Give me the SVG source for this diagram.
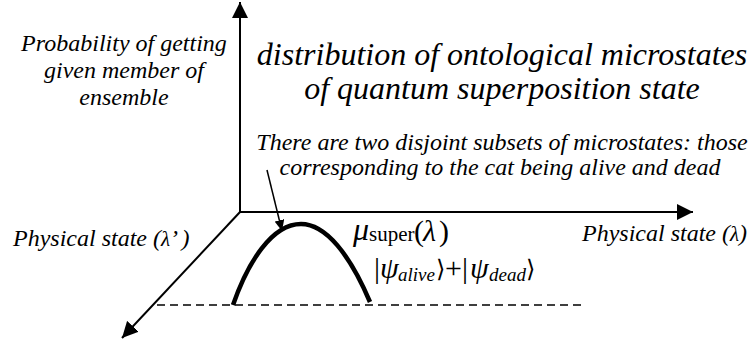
<svg xmlns="http://www.w3.org/2000/svg" width="751" height="343" viewBox="0 0 751 343">
<style>
text{font-family:'Liberation Serif','Times New Roman',serif;fill:#000}
.i{font-style:italic}
.ax{stroke:#000;stroke-width:2;fill:none}
</style>
<defs>
<marker id="ah" markerWidth="18" markerHeight="16" refX="16" refY="8" orient="auto" markerUnits="userSpaceOnUse"><path d="M0,0 L16,8 L0,16 z" fill="#000"/></marker>
<marker id="ahs" markerWidth="12" markerHeight="10" refX="11" refY="5" orient="auto" markerUnits="userSpaceOnUse"><path d="M0,0 L11,5 L0,10 z" fill="#000"/></marker>
</defs>
<rect width="751" height="343" fill="#fff"/>
<g id="connectors">
<line class="ax" x1="240" y1="212" x2="240" y2="2" marker-end="url(#ah)"/>
<line class="ax" x1="239" y1="212" x2="693" y2="212" marker-end="url(#ah)"/>
<line class="ax" x1="240" y1="212" x2="122" y2="338" marker-end="url(#ah)"/>
<line x1="157" y1="305" x2="583" y2="305" stroke="#000" stroke-width="1.5" stroke-dasharray="8,5"/>
<line x1="267" y1="170" x2="282" y2="231" stroke="#000" stroke-width="1.5" marker-end="url(#ahs)"/>
</g>
<g id="curve">
<path d="M233,305 C248,262 272,224 301,224 C326,224 350,255 370,302" fill="none" stroke="#000" stroke-width="4.5"/>
</g>
<g id="y-label">
<text class="i" font-size="24" text-anchor="middle"><tspan x="124" y="51">Probability of getting</tspan><tspan x="124" y="78">given member of</tspan><tspan x="124" y="105">ensemble</tspan></text>
</g>
<g id="title">
<text class="i" font-size="32" text-anchor="middle"><tspan x="502" y="65">distribution of ontological microstates</tspan><tspan x="502" y="99">of quantum superposition state</tspan></text>
</g>
<g id="note">
<text class="i" font-size="24" text-anchor="middle"><tspan x="502" y="150">There are two disjoint subsets of microstates: those</tspan><tspan x="500" y="175">corresponding to the cat being alive and dead</tspan></text>
</g>
<g id="x-label">
<text class="i" font-size="24" x="582" y="241">Physical state (<tspan font-size="21">λ</tspan>)</text>
</g>
<g id="z-label">
<text class="i" font-size="24" x="13" y="246">Physical state (<tspan font-size="21">λ</tspan>’ )</text>
</g>
<g id="mu">
<text class="i" font-size="32" x="353" y="240">μ</text>
<text font-size="21" x="369" y="241">super</text>
<text font-size="30" x="414" y="241">(</text>
<text class="i" font-size="30" x="423" y="241">λ</text>
<text font-size="30" x="439" y="241">)</text>
</g>
<g id="ket">
<text font-size="30" x="374" y="278">|</text>
<text class="i" font-size="30" x="380" y="278">ψ</text>
<text class="i" font-size="19" x="398" y="281">alive</text>
<text font-family="DejaVu Sans" font-size="24" x="436" y="277">⟩</text>
<text font-size="30" x="445" y="278">+|</text>
<text class="i" font-size="30" x="470" y="278">ψ</text>
<text class="i" font-size="19" x="489" y="281">dead</text>
<text font-family="DejaVu Sans" font-size="24" x="526" y="277">⟩</text>
</g>
</svg>
